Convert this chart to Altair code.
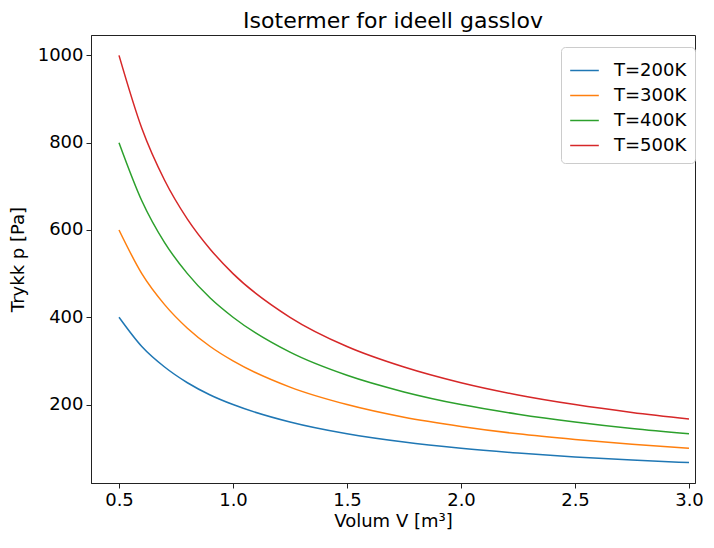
import altair as alt
import pandas as pd

volum = [0.5, 0.6, 0.7, 0.8, 0.9, 1.0, 1.25, 1.5, 1.75, 2.0, 2.25, 2.5, 2.75, 3.0]
p_200 = [400, 333, 286, 250, 222, 200, 160, 133, 114, 100, 89, 80, 73, 67]
p_300 = [600, 500, 429, 375, 333, 300, 240, 200, 171, 150, 133, 120, 109, 100]
p_400 = [800, 667, 571, 500, 444, 400, 320, 267, 229, 200, 178, 160, 145, 133]
p_500 = [1000, 833, 714, 625, 556, 500, 400, 333, 286, 250, 222, 200, 182, 167]
labels = ["T=200K", "T=300K", "T=400K", "T=500K"]
colors = ["#1f77b4", "#ff7f0e", "#2ca02c", "#d62728"]
x_ticks = [0.5, 1.0, 1.5, 2.0, 2.5, 3.0]
y_ticks = [200, 400, 600, 800, 1000]

rows = []
for lab, series in zip(labels, [p_200, p_300, p_400, p_500]):
    for v, p in zip(volum, series):
        rows.append({"V": v, "p": p, "T": lab})
df = pd.DataFrame(rows)

FONT = "DejaVu Sans"

chart = alt.Chart(df).mark_line(strokeWidth=1.5, interpolate="monotone").encode(
    x=alt.X("V:Q",
            scale=alt.Scale(domain=[0.3772, 3.0263], nice=False, zero=False),
            axis=alt.Axis(values=x_ticks, format=".1f", title="Volum V [m³]")),
    y=alt.Y("p:Q",
            scale=alt.Scale(domain=[20.3, 1046.7], nice=False, zero=False),
            axis=alt.Axis(values=y_ticks, format="d", title="Trykk p [Pa]")),
    color=alt.Color("T:N",
                    scale=alt.Scale(domain=labels, range=colors),
                    legend=alt.Legend(title=None, orient="none", legendX=470, legendY=12)),
).properties(
    width=604, height=448,
    title=alt.TitleParams("Isotermer for ideell gasslov", fontSize=22, font=FONT,
                          fontWeight="normal", color="black", anchor="middle", offset=2),
    autosize=alt.AutoSizeParams(type="none"),
    padding={"left": 83, "top": 27, "right": 10, "bottom": 52},
).configure_view(
    stroke="#222", strokeWidth=1
).configure_axis(
    labelFont=FONT, titleFont=FONT, labelFontSize=18, titleFontSize=18,
    labelColor="black", titleColor="black", titleFontWeight="normal",
    tickColor="#222", tickSize=5, domainColor="#222", grid=False, labelPadding=3,
).configure_axisX(titlePadding=3).configure_axisY(titlePadding=10).configure_legend(
    labelFont=FONT, labelFontSize=18, labelColor="black",
    symbolType="stroke", symbolSize=820, symbolStrokeWidth=1.5,
    rowPadding=0, padding=8, fillColor="white", strokeColor="#cccccc",
    cornerRadius=4, labelOffset=14,
)

chart.save("out.html", embed_options={"renderer": "svg", "actions": False})
